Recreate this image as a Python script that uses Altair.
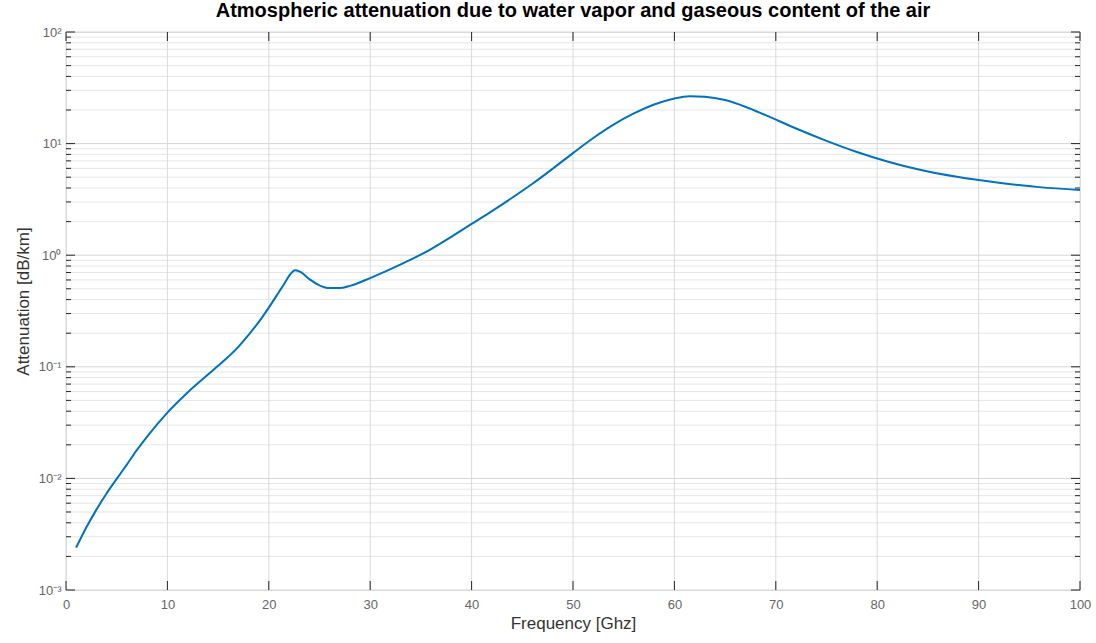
import altair as alt
import pandas as pd

# Specific attenuation of the atmosphere (dB/km) versus frequency (GHz)
freq = [1, 2, 3, 4, 5, 6, 7, 8, 10, 12, 14, 15, 16, 17, 18, 19, 20, 21, 21.5,
        22, 22.6, 23.2, 24, 25, 26, 27, 28, 30, 32, 34, 36, 38, 40, 42, 44, 46,
        48, 50, 52, 54, 56, 58, 60, 61.5, 63, 65, 67, 69, 72, 75, 78, 81, 84,
        88, 92, 96, 100]
atten = [0.00240, 0.00363, 0.00525, 0.00733, 0.00989, 0.0133, 0.0180, 0.0237,
         0.0389, 0.0589, 0.0851, 0.102, 0.123, 0.151, 0.193, 0.251, 0.339,
         0.468, 0.550, 0.653, 0.733, 0.700, 0.610, 0.537, 0.507, 0.507, 0.531,
         0.624, 0.750, 0.912, 1.135, 1.462, 1.905, 2.483, 3.273, 4.365, 5.957,
         8.222, 11.22, 14.79, 18.62, 22.39, 25.41, 26.61, 26.30, 24.55, 21.38,
         17.99, 13.65, 10.59, 8.414, 6.918, 5.888, 5.012, 4.467, 4.074, 3.846]

x_ticks = list(range(0, 101, 10))
y_decades = [0.001, 0.01, 0.1, 1, 10, 100]
decade_labels = ["10⁻³", "10⁻²", "10⁻¹", "10⁰", "10¹", "10²"]
y_minor = [round(m * 10.0 ** k, 6) for k in range(-3, 2) for m in range(2, 10)]

W, H = 1014, 558
FONT = "Liberation Sans"
AXIS_COLOR = "#262626"
LABEL_COLOR = "#666666"
TITLE_COLOR = "#333333"

curve = pd.DataFrame({"f": freq, "a": atten})
xt = pd.DataFrame({"f": x_ticks})
yd = pd.DataFrame({"a": y_decades})
ym = pd.DataFrame({"a": y_minor})

xscale = alt.Scale(domain=[0, 100], nice=False, zero=False)
yscale = alt.Scale(type="log", domain=[0.001, 100], nice=False)

label_expr = ""
for v, lab in zip(y_decades, decade_labels):
    label_expr += f"abs(datum.value - {v}) < {v * 1e-3} ? '{lab}' : "
label_expr += "''"

x_enc = alt.X("f:Q", scale=xscale,
              axis=alt.Axis(title="Frequency [Ghz]", values=x_ticks, grid=False,
                            ticks=False, domain=False, labelPadding=8,
                            labelFlush=False, labelFontSize=13,
                            labelColor=LABEL_COLOR, labelFont=FONT,
                            titleFont=FONT, titleFontSize=17,
                            titleFontWeight="normal", titleColor=TITLE_COLOR,
                            titlePadding=4))
y_enc = alt.Y("a:Q", scale=yscale,
              axis=alt.Axis(title="Attenuation [dB/km]", values=y_decades,
                            labelExpr=label_expr, grid=False, ticks=False,
                            domain=False, labelPadding=5, labelFlush=False,
                            labelFontSize=13, labelColor=LABEL_COLOR,
                            labelFont=FONT, titleFont=FONT, titleFontSize=17,
                            titleFontWeight="normal", titleColor=TITLE_COLOR,
                            titlePadding=6, titleY=H / 2 - 10))

# grid
grid_minor = alt.Chart(ym).mark_rule(color="#e6e6e6", strokeWidth=1).encode(y=y_enc)
grid_major_h = alt.Chart(yd).mark_rule(color="#d6d6d6", strokeWidth=1).encode(y=y_enc)
grid_major_v = alt.Chart(xt).mark_rule(color="#dadada", strokeWidth=1).encode(x=x_enc)

# data curve
line = alt.Chart(curve).mark_line(color="#0072BD", strokeWidth=2,
                                  interpolate="monotone").encode(x=x_enc, y=y_enc)

# inward tick marks on all four sides
tick_style = dict(color=AXIS_COLOR, strokeWidth=1)
left_major = alt.Chart(yd).mark_rule(**tick_style).encode(
    y=y_enc, x=alt.value(0), x2=alt.value(9))
right_major = alt.Chart(yd).mark_rule(**tick_style).encode(
    y=y_enc, x=alt.value(W), x2=alt.value(W - 9))
left_minor = alt.Chart(ym).mark_rule(**tick_style).encode(
    y=y_enc, x=alt.value(0), x2=alt.value(5))
right_minor = alt.Chart(ym).mark_rule(**tick_style).encode(
    y=y_enc, x=alt.value(W), x2=alt.value(W - 5))
bottom_ticks = alt.Chart(xt).mark_rule(**tick_style).encode(
    x=x_enc, y=alt.value(H), y2=alt.value(H - 9))
top_ticks = alt.Chart(xt).mark_rule(**tick_style).encode(
    x=x_enc, y=alt.value(0), y2=alt.value(9))

chart = alt.layer(
    grid_minor, grid_major_h, grid_major_v, line,
    left_major, right_major, left_minor, right_minor, bottom_ticks, top_ticks,
).properties(
    width=W, height=H,
    title=alt.TitleParams(
        "Atmospheric attenuation due to water vapor and gaseous content of the air",
        font=FONT, fontSize=20, fontWeight="bold", color="#000000",
        anchor="middle", offset=5),
    autosize=alt.AutoSizeParams(type="none"),
    padding={"left": 66, "top": 32, "right": 16, "bottom": 53},
).configure_view(
    stroke=AXIS_COLOR, strokeWidth=1.2, fill="white"
).configure(background="white")

chart.save("out.html", embed_options={"renderer": "svg", "actions": False})
